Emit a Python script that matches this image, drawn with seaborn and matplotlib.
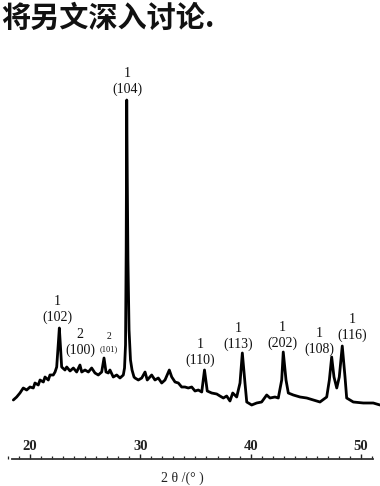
import matplotlib
matplotlib.use("Agg")
import matplotlib.pyplot as plt
from matplotlib.ticker import MultipleLocator
import seaborn as sns
import pandas as pd

# ---- data (2theta in degrees, intensity in a.u.) ----
two_theta = [
    18.49, 18.79, 19.09, 19.39, 19.70, 20.00, 20.30, 20.45, 20.75, 20.91,
    21.21, 21.36, 21.66, 21.81, 22.11, 22.27, 22.42, 22.57, 22.66, 22.78,
    22.87, 23.17, 23.33, 23.63, 23.93, 24.23, 24.53, 24.69, 24.99, 25.29,
    25.59, 25.89, 26.19, 26.50, 26.71, 26.89, 27.10, 27.25, 27.55, 27.86,
    28.16, 28.46, 28.57, 28.66, 28.72, 28.77, 28.82, 28.88, 28.98, 29.11,
    29.25, 29.43, 29.52, 29.82, 30.13, 30.43, 30.63, 31.03, 31.33, 31.63,
    31.94, 32.24, 32.63, 32.85, 33.15, 33.45, 33.75, 34.05, 34.35, 34.66,
    34.96, 35.26, 35.57, 35.82, 36.07, 36.47, 36.93, 37.22, 37.53, 37.83,
    38.13, 38.38, 38.74, 39.04, 39.25, 39.49, 39.65, 40.10, 40.55, 41.00,
    41.46, 41.76, 42.21, 42.51, 42.82, 42.96, 43.21, 43.42, 43.87, 44.48,
    45.09, 45.69, 46.29, 46.90, 47.14, 47.35, 47.56, 47.81, 48.04, 48.31,
    48.56, 48.71, 49.31, 50.22, 51.12, 51.73,
]
intensity = [
    59, 62, 66, 71, 69, 72, 71, 76, 74, 79,
    77, 82, 79, 84, 84, 87, 92, 116, 131, 109,
    92, 89, 92, 88, 91, 87, 94, 87, 89, 87,
    91, 86, 84, 87, 101, 87, 86, 89, 82, 84,
    81, 84, 91, 114, 209, 359, 279, 199, 129, 99,
    89, 82, 81, 79, 81, 87, 79, 84, 79, 81,
    76, 79, 89, 82, 77, 76, 72, 72, 71, 72,
    68, 69, 67, 89, 68, 66, 65, 63, 61, 63,
    58, 66, 62, 76, 106, 76, 57, 54, 56, 57,
    64, 61, 62, 61, 79, 107, 79, 66, 64, 62,
    61, 59, 57, 62, 79, 102, 82, 71, 82, 113,
    82, 61, 57, 56, 56, 54,
]

# peak annotations: phase number, Miller indices
phase_ids = ["1", "2", "2", "1", "1", "1", "1", "1", "1"]
hkl_labels = ["(102)", "(100)", "(101)", "(104)", "(110)", "(113)", "(202)", "(108)", "(116)"]
# label anchor positions (layout, data coords of the hkl text centre)
label_x = [22.45, 24.53, 27.17, 28.80, 35.42, 38.86, 42.86, 46.20, 49.19]
label_y = [142, 109, 110, 370, 99, 115, 116, 110, 124]
label_sizes = [10, 10, 6, 10, 10, 10, 10, 10, 10]

tick_values = [20, 30, 40, 50]
x_label = "2 θ /(° )"
title_text = "将另文深入讨论."

# ---- drawing ----
sns.set_theme(style="white")
plt.rcParams["font.family"] = ["Liberation Serif", "DejaVu Serif"]

W, H = 380, 486
fig = plt.figure(figsize=(W / 100, H / 100), dpi=100)
axis_y_px = 459
ax = fig.add_axes([0, (H - axis_y_px) / H, 1, axis_y_px / H])

df = pd.DataFrame({"2θ": two_theta, "I": intensity})
sns.lineplot(data=df, x="2θ", y="I", ax=ax, color="black", linewidth=2.0,
             sort=False, legend=False)

px_per_deg = 11.03
x0 = 20 - 30 / px_per_deg
x1 = 20 + (W - 30) / px_per_deg
ax.set_xlim(x0, x1)
ax.set_ylim(0, axis_y_px)

for s in ["top", "left", "right"]:
    ax.spines[s].set_visible(False)
ax.spines["bottom"].set_bounds(20 + (12 - 30) / px_per_deg, 20 + (373 - 30) / px_per_deg)
ax.spines["bottom"].set_linewidth(1.3)
ax.spines["bottom"].set_color("#333333")
ax.set_yticks([])
ax.set_ylabel("")
ax.set_xlabel("")

ax.set_xticks(tick_values)
ax.xaxis.set_minor_locator(MultipleLocator(1))
ax.tick_params(axis="x", which="both", direction="in", bottom=True, colors="#222222")
ax.tick_params(axis="x", which="major", length=3.5, width=1.0, pad=-14,
               labelsize=10.5)
ax.tick_params(axis="x", which="minor", length=2.5, width=0.9)
for lab in ax.get_xticklabels():
    lab.set_fontweight("bold")
    lab.set_color("#222222")

for pid, hkl, lx, ly, fs in zip(phase_ids, hkl_labels, label_x, label_y, label_sizes):
    ax.text(lx, ly, hkl, ha="center", va="center", fontsize=fs, color="#111111")
    ax.annotate(pid, xy=(lx, ly), xytext=(0, 11.5 if fs > 8 else 9),
                textcoords="offset points", ha="center", va="center",
                fontsize=fs if fs > 8 else 7, color="#111111")

fig.text(182 / W, 1 - 478 / H, x_label, ha="center", va="center", fontsize=10,
         color="#222222")
fig.text(1 / W, 1 - 18 / H, title_text, ha="left", va="center", fontsize=21,
         fontweight="bold", family=["Noto Sans CJK SC", "DejaVu Sans"], color="#111111")

fig.savefig("out.png", dpi=100)
